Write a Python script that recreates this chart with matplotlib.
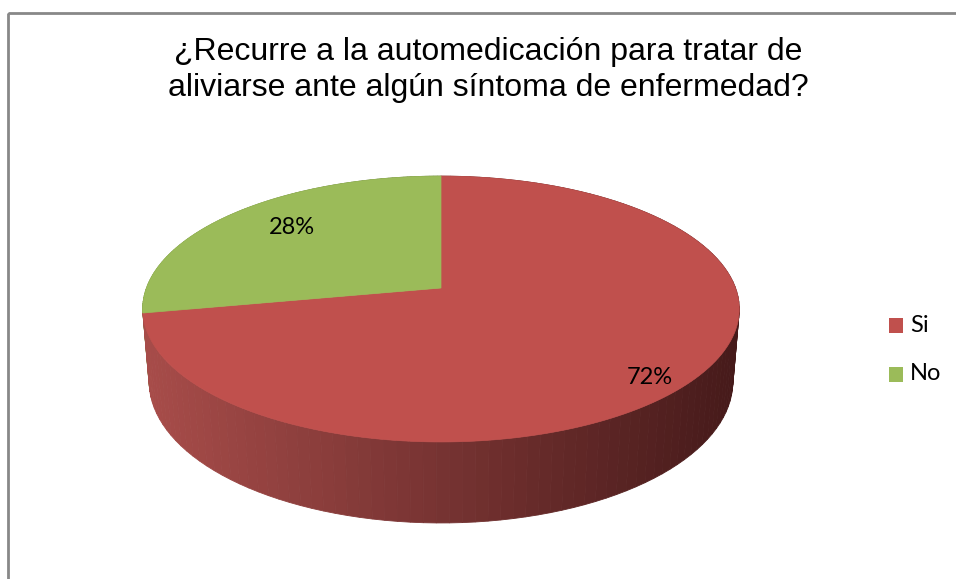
import numpy as np
import matplotlib.pyplot as plt
from matplotlib.patches import Polygon, Rectangle

# datos del grafico
categorias = ['Si', 'No']
valores = [72, 28]
etiquetas = ['72%', '28%']
titulo = '¿Recurre a la automedicación para tratar de\naliviarse ante algún síntoma de enfermedad?'

col_top = ['#C0504D', '#9BBB59']
col_lado_izq = [(0.66, 0.30, 0.29), (0.50, 0.61, 0.29)]
col_lado_der = [(0.27, 0.10, 0.10), (0.24, 0.30, 0.13)]

# geometria de la torta 3D (pixeles)
cx, cy = 441, 288
f = 1673.0
D = 5.68
alpha = np.arcsin(0.44)
h = 0.277
ca, sa = np.cos(alpha), np.sin(alpha)


def proj(X, Y, Z):
    v = Y * ca + Z * sa
    w = D + Z * ca - Y * sa
    return cx + f * X / w, cy - f * v / w


fig = plt.figure(figsize=(9.56, 5.79), dpi=100)
ax = fig.add_axes([0, 0, 1, 1])
ax.set_xlim(0, 956)
ax.set_ylim(579, 0)
ax.axis('off')

# marco del grafico
ax.add_patch(Rectangle((8, 13), 1000, 620, fill=False, edgecolor='#888888', lw=2))

total = float(sum(valores))
angulos = np.concatenate([[0], np.cumsum(valores) / total * 2 * np.pi])

# paredes laterales (ordenadas de atras hacia adelante)
quads = []
for i in range(len(valores)):
    th = np.linspace(angulos[i], angulos[i + 1], 120)
    for a0, a1 in zip(th[:-1], th[1:]):
        X0, Z0 = np.sin(a0), np.cos(a0)
        X1, Z1 = np.sin(a1), np.cos(a1)
        p = [proj(X0, 0, Z0), proj(X1, 0, Z1), proj(X1, -h, Z1), proj(X0, -h, Z0)]
        prof = (Z0 + Z1) / 2
        xm = np.mean([q[0] for q in p])
        quads.append((prof, i, xm, p))

quads.sort(key=lambda q: -q[0])
for prof, i, xm, p in quads:
    t = np.clip((xm - 143) / (741 - 143), 0, 1)
    c = tuple(np.array(col_lado_izq[i]) * (1 - t) + np.array(col_lado_der[i]) * t)
    ax.add_patch(Polygon(p, closed=True, facecolor=c, edgecolor=c, lw=0.6))

# cara superior
for i in range(len(valores)):
    th = np.linspace(angulos[i], angulos[i + 1], 200)
    pts = [proj(0, 0, 0)] + [proj(np.sin(a), 0, np.cos(a)) for a in th]
    ax.add_patch(Polygon(pts, closed=True, facecolor=col_top[i], edgecolor=col_top[i], lw=0.5))

# etiquetas de porcentaje
pos_etq = [(650, 377), (292, 228)]
for (x, y), e in zip(pos_etq, etiquetas):
    ax.text(x, y, e, ha='center', va='center', fontsize=17, family='Lato', color='black')

# titulo
ax.text(488, 70, titulo, ha='center', va='center', fontsize=23,
        family='Liberation Sans', linespacing=1.28, color='black')

# leyenda
ley_y = [325, 374]
for i, cat in enumerate(categorias):
    ax.add_patch(Rectangle((889, ley_y[i] - 7.5), 14, 15, facecolor=col_top[i], edgecolor='none'))
    ax.text(910, ley_y[i], cat, ha='left', va='center', fontsize=17, family='Lato')

fig.savefig('out.png', dpi=100)
